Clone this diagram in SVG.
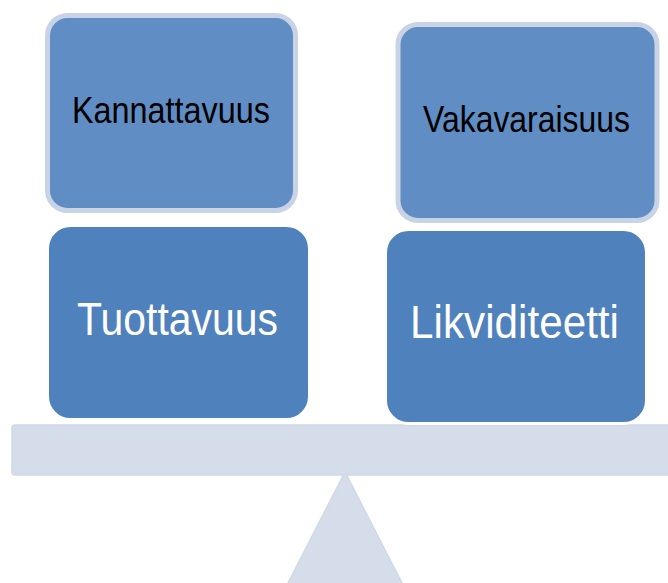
<svg xmlns="http://www.w3.org/2000/svg" width="668" height="583" viewBox="0 0 668 583">
  <style>
    .base { fill: #D6DDEA; stroke: #D0D8E7; stroke-width: 1.5; }
    .top { fill: #5F8DC4; stroke: #C9D3E6; stroke-width: 5; }
    .low { fill: #4F81BD; stroke: #FFFFFF; stroke-width: 3; }
    .tdark { font-family: "Liberation Sans", Arial, sans-serif; font-size: 36px; fill: #000000; text-anchor: middle; }
    .tlight { font-family: "Liberation Sans", Arial, sans-serif; font-size: 46px; fill: #FFFFFF; text-anchor: middle; }
  </style>
  <rect width="668" height="583" fill="#FFFFFF"/>
  <g id="fulcrum">
    <polygon class="base" points="345,472 287,585 403,585"/>
  </g>
  <g id="beam">
    <rect class="base" x="12" y="425" width="670" height="50" rx="3"/>
  </g>
  <g id="kannattavuus">
    <rect class="top" x="47.5" y="15.5" width="248" height="195" rx="20"/>
    <text class="tdark" x="171" y="123" textLength="198" lengthAdjust="spacingAndGlyphs">Kannattavuus</text>
  </g>
  <g id="vakavaraisuus">
    <rect class="top" x="398" y="24.5" width="259" height="196" rx="20"/>
    <text class="tdark" x="526.5" y="132" textLength="207" lengthAdjust="spacingAndGlyphs">Vakavaraisuus</text>
  </g>
  <g id="tuottavuus">
    <rect class="low" x="47.5" y="225.5" width="262" height="194" rx="23"/>
    <text class="tlight" x="177.5" y="335" textLength="201" lengthAdjust="spacingAndGlyphs">Tuottavuus</text>
  </g>
  <g id="likviditeetti">
    <rect class="low" x="385.5" y="229.5" width="261" height="194" rx="23"/>
    <text class="tlight" x="514.5" y="338" textLength="209" lengthAdjust="spacingAndGlyphs">Likviditeetti</text>
  </g>
  <g id="connectors"/>
</svg>
